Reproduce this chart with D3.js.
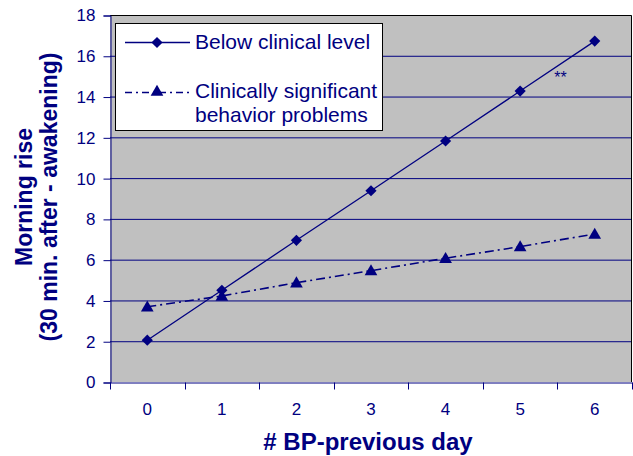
<!DOCTYPE html>
<meta charset="utf-8">
<style>
body{margin:0;background:#fff;}
text{font-family:"Liberation Sans",Arial,sans-serif;fill:#000080;}
.tick text{font-size:17px;}
.title{font-weight:bold;font-size:23px;}
.xtitle{font-size:24px;}
.leg text{font-size:21px;}
</style>
<body>
<script src="https://d3js.org/d3.v7.min.js"></script>
<script>

var days=["0","1","2","3","4","5","6"];
var belowClinical=[2.05,4.5,6.95,9.38,11.82,14.27,16.72];
var clinSignificant=[3.69,4.22,4.87,5.46,6.07,6.64,7.26];
var yTicks=[0,2,4,6,8,10,12,14,16,18];

var navy="#000080";
var W=633,H=456;
var m={l:110,r:1,t:15,b:74};

var svg=d3.select("body").append("svg").attr("width",W).attr("height",H);

var x=d3.scaleBand().domain(days).range([m.l,W-m.r]);
var y=d3.scaleLinear().domain([0,18]).range([H-m.b,m.t]);

// plot area
svg.append("rect").attr("x",m.l).attr("y",m.t)
	.attr("width",W-m.r-m.l).attr("height",H-m.b-m.t)
	.attr("fill","#c0c0c0");

// grid
svg.append("g").selectAll("line").data(yTicks.filter(d=>d>0&&d<18)).join("line")
	.attr("x1",m.l).attr("x2",W-m.r)
	.attr("y1",d=>y(d)+0.5).attr("y2",d=>y(d)+0.5)
	.attr("stroke",navy).attr("stroke-width",1);

// top/right border
svg.append("path")
	.attr("d","M"+m.l+","+(m.t+0.5)+"H"+(W-m.r-0.5)+"V"+(H-m.b))
	.attr("fill","none").attr("stroke","#000").attr("stroke-width",1);

var yAxis=svg.append("g").attr("transform","translate("+(m.l+0.5)+",0.5)")
	.call(d3.axisLeft(y).tickValues(yTicks).tickSize(7).tickPadding(8));
var xAxis=svg.append("g").attr("transform","translate(0,"+(H-m.b+0.5)+")")
	.call(d3.axisBottom(x).tickSize(0).tickPadding(20));
// x ticks between categories
xAxis.selectAll(".sep").data(d3.range(days.length+1)).join("line")
	.attr("x1",i=>Math.round(m.l+i*x.step())+0.5).attr("x2",i=>Math.round(m.l+i*x.step())+0.5)
	.attr("y1",0).attr("y2",7).attr("stroke",navy);
[yAxis,xAxis].forEach(function(a){
	a.selectAll("path,line").attr("stroke",navy);
	a.selectAll("text").attr("fill",navy).attr("font-family",null).attr("font-size",null);
});

var cx=d=>x(d)+x.bandwidth()/2;

// lines
var line=d3.line().x((d,i)=>cx(days[i])).y(d=>y(d));
svg.append("path").datum(belowClinical).attr("d",line)
	.attr("fill","none").attr("stroke",navy).attr("stroke-width",1.3);
svg.append("path").datum(clinSignificant).attr("d",line)
	.attr("fill","none").attr("stroke",navy).attr("stroke-width",1.6)
	.attr("stroke-dasharray","9,4,2,4");

var diamond=d3.symbol().type(d3.symbolDiamond2).size(80);
var tri=d3.symbol().type(d3.symbolTriangle).size(70);

svg.append("g").selectAll("path").data(belowClinical).join("path")
	.attr("transform",(d,i)=>"translate("+cx(days[i])+","+y(d)+")")
	.attr("d",diamond).attr("fill",navy);
svg.append("g").selectAll("path").data(clinSignificant).join("path")
	.attr("transform",(d,i)=>"translate("+cx(days[i])+","+(y(d)+1)+")")
	.attr("d",tri).attr("fill",navy);

// significance mark
svg.append("text").attr("x",(cx("5")+cx("6"))/2+3).attr("y",y(14.65))
	.attr("text-anchor","middle").style("font-size","16px").text("**");

// legend
var leg=svg.append("g").attr("class","leg");
leg.append("rect").attr("x",115.5).attr("y",23.5).attr("width",267).attr("height",107)
	.attr("fill","#fff").attr("stroke","#000");
leg.append("line").attr("x1",125).attr("x2",190).attr("y1",42.5).attr("y2",42.5)
	.attr("stroke",navy).attr("stroke-width",1.3);
leg.append("path").attr("transform","translate(157,42.5)").attr("d",diamond).attr("fill",navy);
leg.append("text").attr("x",195).attr("y",49).text("Below clinical level");
leg.append("line").attr("x1",125).attr("x2",190).attr("y1",92.5).attr("y2",92.5)
	.attr("stroke",navy).attr("stroke-width",1.6).attr("stroke-dasharray","7,4,2,4");
leg.append("path").attr("transform","translate(157,92)").attr("d",tri).attr("fill",navy);
leg.append("text").attr("x",195).attr("y",98).text("Clinically significant");
leg.append("text").attr("x",195).attr("y",122).text("behavior problems");

// axis titles
svg.append("text").attr("class","title xtitle").attr("x",368).attr("y",450)
	.attr("text-anchor","middle").text("# BP-previous day");
var yt=svg.append("text").attr("class","title").attr("text-anchor","middle")
	.attr("transform","translate(0,197) rotate(-90)");
yt.append("tspan").attr("x",0).attr("y",32).text("Morning rise");
yt.append("tspan").attr("x",0).attr("y",57).text("(30 min. after - awakening)");

</script>
</body>
